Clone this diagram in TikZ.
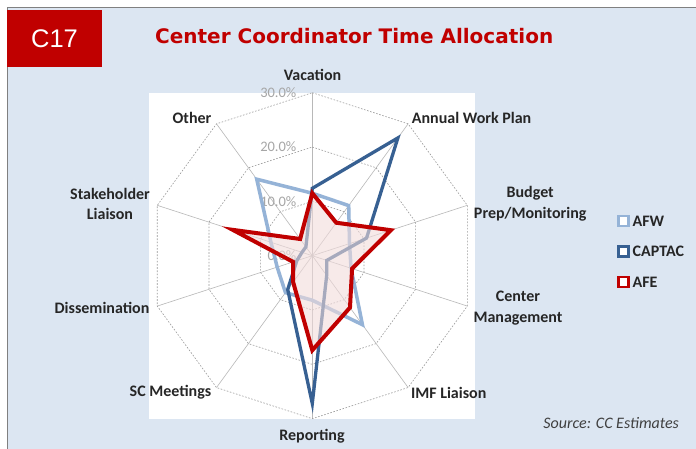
\documentclass[tikz,border=0pt]{standalone}
\usepackage{fontspec}
\setmainfont{Carlito}
\newfontfamily\headfont{DejaVu Sans}
\newfontfamily\tagfont{Liberation Sans}
\definecolor{panel}{HTML}{DCE6F2}
\definecolor{afw}{HTML}{95B3D7}
\definecolor{captac}{HTML}{376092}
\definecolor{afe}{HTML}{C00000}
\definecolor{afefill}{HTML}{F2DCDB}
\tikzset{
  spoke/.style={draw=black!28, line width=0.6pt},
  ring/.style={draw=black!40, line width=0.6pt, dash pattern=on 1.6pt off 1.6pt},
  axislabel/.style={font=\fontsize{16}{20.5}\selectfont\bfseries, align=center, text=black!85, inner sep=0pt},
  ticklabel/.style={font=\fontsize{14.5}{16}\selectfont, text=black!35, anchor=east, inner sep=0pt},
  series/.style={line width=3.5pt, line join=miter, miter limit=20},
  keybox/.style={draw=#1, line width=2.8pt, fill=white, minimum size=10pt, inner sep=0pt},
  keytext/.style={anchor=west, font=\fontsize{16}{19}\selectfont\bfseries, text=black!85, inner sep=0pt}
}
\begin{document}
\begin{tikzpicture}[x=1pt,y=-1pt]
  \useasboundingbox (0,0) rectangle (696,449);
  \fill[panel] (7,8) rectangle (696,449);
  \draw[black!50, line width=1pt] (7,449) -- (7,8) -- (696,8);
  \node[fill=afe, minimum width=94.5pt, minimum height=56.7pt, inner sep=0pt, text=white,
    font=\tagfont\fontsize{25.5}{26}\selectfont] (tag) at(54.5,38.3){C17};
  \node[anchor=west, inner sep=0pt, text=afe, font=\headfont\bfseries\fontsize{20}{24}\selectfont]
    (title) at(155,36.3){Center Coordinator Time Allocation};
  \fill[white] (149,92.7) rectangle (475,419.3);
  \begin{scope}[shift={(312.3,255.7)}, x=5.433pt, y=5.433pt]
    \foreach \k in {0,...,9} \draw[spoke] (0,0) -- (90-36*\k:30);
    \foreach \lev in {10,20,30}
      \draw[ring] (90:\lev) \foreach \k in {1,...,9}{ -- (90-36*\k:\lev)} -- cycle;
    \foreach \lev in {0,10,20,30} \node[ticklabel] (tick\lev) at(-2.9,\lev){\lev.0\%};
    \draw[series, afw] (90:11.5) -- (54:11.4) -- (18:7.2) -- (-18:7.5) -- (-54:15.7)
      -- (-90:8.2) -- (-126:8.4) -- (-162:6.8) -- (162:8.0) -- (126:17.4) -- cycle;
    \draw[series, line width=3.3pt, captac] (90:12.4) -- (54:26.8) -- (18:10.5) -- (-18:2.8) -- (-54:4.5)
      -- (-90:27.2) -- (-126:7.7) -- (-162:3.0) -- (162:2.0) -- (126:2.0) -- cycle;
    \filldraw[series, line width=4pt, draw=afe, fill=afefill, fill opacity=0.6]
      (90:11.5) -- (54:7.5) -- (18:15.2) -- (-18:7.7) -- (-54:11.8)
      -- (-90:17.4) -- (-126:6.0) -- (-162:3.7) -- (162:15.4) -- (126:3.8) -- cycle;
  \end{scope}
  \node[axislabel] (vacation) at(312.5,75){Vacation};
  \node[axislabel] (workplan) at(471.6,118.3){Annual Work Plan};
  \node[axislabel] (budget) at(530.2,203.7){Budget\\Prep/Monitoring};
  \node[axislabel] (management) at(518,308.3){Center\\Management};
  \node[axislabel] (imf) at(448.7,392.7){IMF Liaison};
  \node[axislabel] (reporting) at(312,436.7){Reporting};
  \node[axislabel] (scmeetings) at(170.5,392.7){SC Meetings};
  \node[axislabel] (dissemination) at(102,308.3){Dissemination};
  \node[axislabel] (stakeholder) at(110,203.7){Stakeholder\\Liaison};
  \node[axislabel] (other) at(192,118.3){Other};
  \node[keybox=afw] (afwkey) at(623.5,221){};
  \node[keytext] (afwname) at(632.5,221){AFW};
  \node[keybox=captac] (captackey) at(623.5,251.5){};
  \node[keytext] (captacname) at(632.5,251.5){CAPTAC};
  \node[keybox=afe] (afekey) at(623.5,282){};
  \node[keytext] (afename) at(632.5,282){AFE};
  \node[font=\itshape\fontsize{16}{19}\selectfont, text=black!75, inner sep=0pt] (source)
    at(611.2,423.3){Source: CC Estimates};
\end{tikzpicture}
\end{document}
